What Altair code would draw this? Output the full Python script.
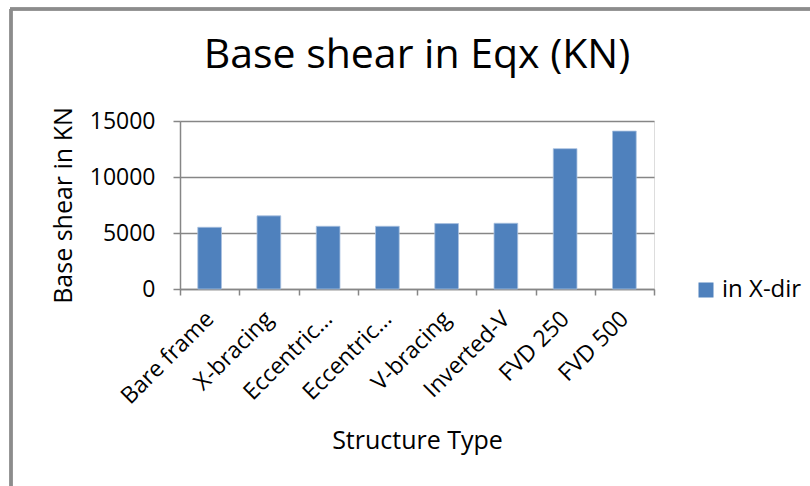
import altair as alt
import pandas as pd

categories = ["Bare frame", "X-bracing", "Eccentric bracing 1", "Eccentric bracing 2",
              "V-bracing", "Inverted-V", "FVD 250", "FVD 500"]
tick_labels = ["Bare frame", "X-bracing", "Eccentric…", "Eccentric…",
               "V-bracing", "Inverted-V", "FVD 250", "FVD 500"]
base_shear = [5510, 6530, 5600, 5600, 5840, 5870, 12530, 14100]
series = ["in X-dir"] * len(categories)

df = pd.DataFrame({"type": categories, "shear": base_shear, "series": series})

FONT = "Open Sans"
GRAY = "#868686"

cat_js = "[" + ",".join("'" + c + "'" for c in categories) + "]"
lab_js = "[" + ",".join("'" + l + "'" for l in tick_labels) + "]"
label_expr = f"{lab_js}[indexof({cat_js}, datum.value)]"

bars = alt.Chart(df).mark_bar(width=alt.RelativeBandSize(0.4), stroke="#a9c1e0", strokeWidth=0.8).encode(
    x=alt.X("type:N", sort=categories,
            scale=alt.Scale(paddingInner=0, paddingOuter=0),
            axis=alt.Axis(title="Structure Type", labelExpr=label_expr, labelAngle=315,
                          labelAlign="right", labelBaseline="middle", labelPadding=20,
                          tickBand="extent", ticks=True, tickSize=6, tickColor=GRAY,
                          tickWidth=1.5, domainColor=GRAY, domainWidth=1.5, grid=False,
                          labelFont=FONT, labelFontSize=23, labelColor="black",
                          titleFont=FONT, titleFontSize=25, titleFontWeight="normal",
                          titleColor="black", titlePadding=20)),
    y=alt.Y("shear:Q", scale=alt.Scale(domain=[0, 15000], nice=False),
            axis=alt.Axis(title="Base shear in KN", values=[0, 5000, 10000, 15000],
                          format="d", tickSize=7, tickColor=GRAY, tickWidth=1.5,
                          domainColor=GRAY, domainWidth=1.5, grid=True, gridColor=GRAY,
                          gridWidth=1.5, labelFont=FONT, labelFontSize=23,
                          labelColor="black", labelPadding=18, titleFont=FONT,
                          titleFontSize=25, titleFontWeight="normal", titleColor="black",
                          titlePadding=13)),
    color=alt.Color("series:N", scale=alt.Scale(range=["#4F81BD"]),
                    legend=alt.Legend(title=None, orient="none", legendX=514, legendY=157,
                                      symbolType="square", symbolSize=225,
                                      symbolStrokeWidth=0, labelFont=FONT,
                                      labelFontSize=24, labelColor="black", labelOffset=4)),
)

border_left = alt.Chart(df).mark_rule(color="#8c8c8c", strokeWidth=2.5).encode(
    x=alt.value(-169), y=alt.value(-112), y2=alt.value(380))
border_top = alt.Chart(df).mark_rule(color="#8c8c8c", strokeWidth=2.5).encode(
    x=alt.value(-170), x2=alt.value(640), y=alt.value(-112))

chart = alt.layer(bars, border_left, border_top).properties(
    width=474, height=168,
    title=alt.TitleParams("Base shear in Eqx (KN)", font=FONT, fontSize=41,
                          fontWeight="normal", color="black", anchor="middle", offset=-69),
    autosize=alt.AutoSizeParams(type="none"),
    padding={"left": 180, "top": 121, "right": 156, "bottom": 197},
).configure_view(stroke=None).configure(background="white")

chart.save("out.html", embed_options={"renderer": "svg", "actions": False})
